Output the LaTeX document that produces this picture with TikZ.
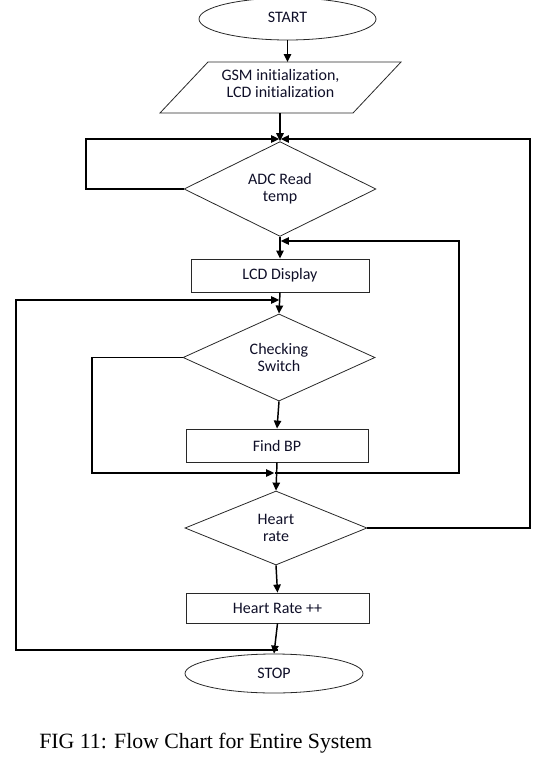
\documentclass[tikz,border=0pt]{standalone}
\usepackage{fontspec}
\setmainfont{Carlito}[Ligatures=NoCommon]
\newfontfamily\capfont{Liberation Serif}
\usetikzlibrary{shapes.geometric,arrows.meta}
\definecolor{txtc}{RGB}{15,15,40}
\definecolor{shapec}{RGB}{40,40,40}
\begin{document}
\begin{tikzpicture}[x=0.75pt,y=-0.75pt,
  base/.style={draw=shapec,line width=0.6pt,inner sep=0pt,text=txtc,
    font=\fontsize{12}{13}\selectfont,align=center},
  oval/.style={base,ellipse},
  procbox/.style={base,rectangle},
  decision/.style={base,diamond},
  conn/.style={line width=1.1pt,black},
  arr/.style={conn,-{Triangle[length=6pt,width=5.5pt]}}]
\useasboundingbox (0,0) rectangle (538,760);

% nodes
\node[oval,minimum width=177*0.75pt,minimum height=42*0.75pt] (start) at (287.5,19) {\raisebox{2.2pt}{START}};
\draw[draw=shapec,line width=0.6pt] (208,62) -- (401,62) -- (353,113) -- (160,113) -- cycle;
\node[base,draw=none] (init) at (280.5,83.5) {GSM initialization,\\LCD initialization};
\coordinate (initT) at (287.5,62);
\coordinate (initB) at (280,113);

\node[decision,minimum width=192*0.75pt,minimum height=80*0.75pt] (adc) at (280,189) {ADC Read\\temp};
\node[procbox,minimum width=178*0.75pt,minimum height=33*0.75pt] (lcd) at (280,275.5) {LCD Display};
\node[decision,minimum width=192*0.75pt,minimum height=70*0.75pt] (cs) at (279,357.5) {Checking\\Switch};
\node[procbox,minimum width=182*0.75pt,minimum height=33*0.75pt] (findbp) at (277,445.5) {Find BP};
\node[decision,minimum width=182*0.75pt,minimum height=74*0.75pt] (hr) at (276,528) {Heart\\rate};
\node[procbox,minimum width=183*0.75pt,minimum height=30*0.75pt] (hrpp) at (277.5,608) {Heart Rate ++};
\node[oval,minimum width=178*0.75pt,minimum height=39*0.75pt] (stop) at (274,673.5) {STOP};

% junction coordinates
\coordinate (j1) at (280,139);
\coordinate (j2) at (280,241);
\coordinate (j3) at (280,300);
\coordinate (j4) at (275,473);
\coordinate (j5) at (278,650);
\coordinate (l1) at (86,139);
\coordinate (r1) at (530,139);
\coordinate (r2) at (459,241);
\coordinate (l2) at (92,473);
\coordinate (l3) at (16,300);

% main flow
\draw[arr] (start.south) -- (initT);
\draw[arr] (initB) -- (adc.north);
\draw[arr] (adc.south) -- (lcd.north);
\draw[arr] (lcd.south) -- (cs.north);
\draw[arr] (cs.south) -- (findbp.north);
\draw[arr] (findbp.south) -- (hr.north);
\draw[arr] (hr.south) -- (hrpp.north);
\draw[arr] (hrpp.south) -- (stop.north);

% loops
\draw[arr,shorten >=0.6pt] (adc.west) -| (l1) -- (j1);
\draw[arr,shorten >=0.6pt] (hr.east) -| (r1) -- (j1);
\draw[arr,shorten >=0.6pt] (j4) -| (r2) -- (j2);
\draw[arr,shorten >=0.6pt] (cs.west) -| (l2) -- (j4);
\draw[arr,shorten >=0.6pt] (j5) -| (l3) -- (j3);

% caption
\node[anchor=base west,inner sep=0pt,font=\capfont\fontsize{16.35}{18}\selectfont] (cap) at (39,748) {FIG 11: Flow Chart for Entire System};
\end{tikzpicture}
\end{document}
